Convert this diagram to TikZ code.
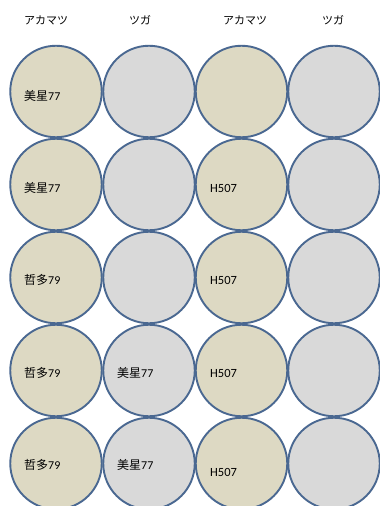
\documentclass[tikz,border=0pt]{standalone}
\usepackage{fontspec}
\setmainfont{Noto Sans CJK JP}
\newfontfamily\latinf{Carlito}
\definecolor{tanfill}{HTML}{DDD9C3}
\definecolor{grayfill}{HTML}{D9D9D9}
\definecolor{rim}{HTML}{4A6891}
\begin{document}
\begin{tikzpicture}[x=1pt,y=-1pt,
  disc/.style={circle,draw=rim,line width=1.9pt,minimum size=91.5pt,inner sep=0pt},
  tan/.style={disc,fill=tanfill},
  grey/.style={disc,fill=grayfill},
  hdr/.style={font=\fontsize{11}{13}\selectfont,anchor=center},
  lbl/.style={font=\fontsize{12}{14}\selectfont,anchor=west,inner sep=0pt}]
\useasboundingbox (0,0) rectangle (380,506);
\fill[white] (0,0) rectangle (380,506);
% headers
\node[hdr] (h1) at (46,20) {アカマツ};
\node[hdr] (h2) at (140,20) {ツガ};
\node[hdr] (h3) at (245,20) {アカマツ};
\node[hdr] (h4) at (333,20) {ツガ};
% circles
\foreach \r/\y in {1/91.5,2/184.5,3/277.5,4/370.5,5/463.5}{
  \node[tan]  (c\r a) at (56,\y) {};
  \node[grey] (c\r b) at (149,\y) {};
  \node[tan]  (c\r c) at (241.5,\y) {};
  \node[grey] (c\r d) at (334,\y) {};
}
% labels
\node[lbl] (l1a) at (24,96) {美星{\latinf 77}};
\node[lbl] (l2a) at (24,188) {美星{\latinf 77}};
\node[lbl] (l2c) at (210,188) {{\latinf\fontsize{12.5}{14}\selectfont H507}};
\node[lbl] (l3a) at (24,280) {哲多{\latinf 79}};
\node[lbl] (l3c) at (210,280) {{\latinf\fontsize{12.5}{14}\selectfont H507}};
\node[lbl] (l4a) at (24,373) {哲多{\latinf 79}};
\node[lbl] (l4b) at (117,373) {美星{\latinf 77}};
\node[lbl] (l4c) at (210,373) {{\latinf\fontsize{12.5}{14}\selectfont H507}};
\node[lbl] (l5a) at (24,465) {哲多{\latinf 79}};
\node[lbl] (l5b) at (117,465) {美星{\latinf 77}};
\node[lbl] (l5c) at (210,472) {{\latinf\fontsize{12.5}{14}\selectfont H507}};
\end{tikzpicture}
\end{document}
